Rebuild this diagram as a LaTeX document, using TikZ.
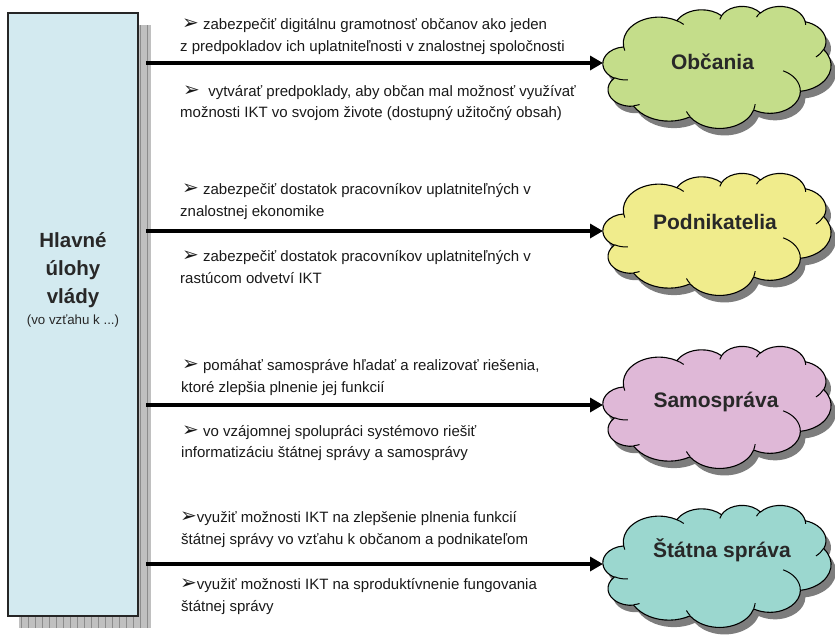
\documentclass[tikz,border=0pt]{standalone}
\usepackage{fontspec}
\setmainfont{Liberation Sans}
\newfontfamily\dingfont{DejaVu Sans}
\usetikzlibrary{arrows.meta}
\definecolor{rectblue}{RGB}{211,234,240}
\definecolor{shadowgray}{RGB}{192,192,192}
\definecolor{gridgray}{RGB}{140,140,140}
\definecolor{cgreen}{RGB}{196,221,138}
\definecolor{cyellow}{RGB}{240,236,140}
\definecolor{cpink}{RGB}{223,184,215}
\definecolor{cteal}{RGB}{155,215,207}
\definecolor{cshadow}{RGB}{125,125,125}
\definecolor{labelgray}{RGB}{40,40,40}
\definecolor{txtcol}{RGB}{25,25,25}

% Office-style cloud outline, computed from elliptical arcs (units: 1/100 of 43200)
\newcommand\cldadd[5]{%
  \pgfmathsetmacro\cldtA{atan2((#2)*sin(#4),(#3)*cos(#4))}%
  \pgfmathsetmacro\cldtB{atan2((#2)*sin((#4)+(#5)),(#3)*cos((#4)+(#5)))}%
  \pgfmathsetmacro\cldtB{\cldtB+360*round(((#5)-(\cldtB-\cldtA))/360)}%
  \xdef#1{#1 arc[start angle=\cldtA, end angle=\cldtB, x radius=#2, y radius=#3]}%
}
\gdef\cldmain{(39,143.7)}
\cldadd\cldmain{67.53}{91.90}{-190.4875}{123.7805}
\cldadd\cldmain{53.33}{72.67}{-144.1024}{89.9452}
\cldadd\cldmain{43.65}{59.45}{-145.8079}{99.7230}
\cldadd\cldmain{48.57}{65.95}{-130.9861}{117.2417}
\cldadd\cldmain{53.33}{72.73}{-78.7089}{109.0269}
\cldadd\cldmain{67.75}{92.20}{-46.2673}{130.2690}
\cldadd\cldmain{57.85}{78.67}{0.6250}{114.0333}
\cldadd\cldmain{67.52}{92.15}{22.4516}{115.1726}
\cldadd\cldmain{77.20}{105.43}{66.2426}{75.7110}
\cldadd\cldmain{43.60}{59.18}{-274.9421}{146.7356}
\cldadd\cldmain{43.45}{59.45}{-246.8285}{152.5189}
\gdef\cldinner{}
\newcommand\cldin[6]{\xdef\cldinner{\cldinner (#1,#2)}\cldadd\cldinner{#3}{#4}{#5}{#6}}
\cldin{46.93}{261.77}{43.45}{59.45}{86.7420}{26.4295}
\cldin{69.28}{348.99}{43.60}{59.18}{73.6105}{11.4475}
\cldin{164.78}{390.90}{67.52}{92.15}{137.6242}{14.0811}
\cldin{288.27}{347.51}{67.52}{92.15}{6.4533}{15.9984}
\cldin{341.29}{229.54}{57.85}{78.67}{-70.2924}{70.9174}
\cldin{417.98}{153.54}{53.33}{72.73}{30.3180}{27.7515}
\cldin{383.24}{54.26}{48.57}{65.95}{-13.7443}{14.8589}
\cldin{290.78}{39.52}{48.57}{65.95}{-149.1815}{18.1954}
\cldin{221.41}{47.20}{43.65}{59.45}{-163.4943}{17.6864}
\cldin{140.00}{51.92}{67.53}{91.90}{-66.7070}{12.3194}
\cldin{41.27}{157.89}{67.53}{91.90}{157.6544}{11.8582}

\newcommand\drawcloud[5]{%
  \begin{scope}[shift={(#1+5,#2+7)}, xscale=#3/432, yscale=#4/432]
    \fill[cshadow] \cldmain -- cycle;
  \end{scope}
  \begin{scope}[shift={(#1,#2)}, xscale=#3/432, yscale=#4/432]
    \filldraw[fill=#5, draw=black, line width=1.1pt] \cldmain -- cycle;
    \draw[line width=1pt] \cldinner;
  \end{scope}
}
\newcommand\bul{{\dingfont\fontsize{20}{20}\selectfont ➢}}

\tikzset{
  txt/.style={anchor=base west, inner sep=0pt, text=txtcol, font=\fontsize{15}{18}\selectfont},
  ttl/.style={anchor=base, inner sep=0pt, text=labelgray, font=\fontsize{20.5}{24}\selectfont\bfseries},
  clbl/.style={inner sep=0pt, text=labelgray, font=\fontsize{21}{25}\selectfont\bfseries},
  link/.style={line width=4.5pt, -{Triangle[length=13pt,width=14pt]}, shorten <=7.5pt},
}

\begin{document}
\begin{tikzpicture}[x=1pt, y=-1pt]
\useasboundingbox (0,0) rectangle (835,635);
% shadow of the main box (hatched grey)
\begin{scope}
  \clip (19,25) rectangle (151,628);
  \fill[shadowgray] (19,25) rectangle (151,628);
  \draw[gridgray, line width=0.6pt, step=7] (19,25) grid (151,628);
\end{scope}
\node[draw=black!85, fill=rectblue, line width=1.3pt, minimum width=130, minimum height=603, inner sep=0pt] (main) at (73,314.5) {};
\node[ttl] (h1) at (73,247) {Hlavné};
\node[ttl] (h2) at (73,275) {úlohy};
\node[ttl] (h3) at (73,303) {vlády};
\node[anchor=base, inner sep=0pt, text=labelgray, font=\fontsize{13.3}{16}\selectfont] (h4) at (73,324) {(vo vzťahu k ...)};

% clouds
\drawcloud{603}{6}{228}{122}{cgreen}
\drawcloud{603}{173}{228}{122}{cyellow}
\drawcloud{603}{346}{228}{122}{cpink}
\drawcloud{603}{505}{228}{122}{cteal}
\node[clbl] (c1) at (712.5,62) {Občania};
\node[clbl] (c2) at (715,222) {Podnikatelia};
\node[clbl] (c3) at (716,402) {Samospráva};
\node[clbl] (c4) at (722,550) {Štátna správa};
\coordinate (e1) at (603,63);
\coordinate (e2) at (603,231);
\coordinate (e3) at (603,405);
\coordinate (e4) at (603,564);

% connectors
\draw[link] (main.east |- e1) -- (e1);
\draw[link] (main.east |- e2) -- (e2);
\draw[link] (main.east |- e3) -- (e3);
\draw[link] (main.east |- e4) -- (e4);

% texts
\node[txt] (t11) at (182,29) {\bul\ zabezpečiť digitálnu gramotnosť občanov ako jeden};
\node[txt] (t12) at (180,51) {z predpokladov ich uplatniteľnosti v znalostnej spoločnosti};
\node[txt] (t13) at (183,96) {\bul\ \ vytvárať predpoklady, aby občan mal možnosť využívať};
\node[txt] (t14) at (180,117) {možnosti IKT vo svojom živote (dostupný užitočný obsah)};

\node[txt] (t21) at (182,194) {\bul\ zabezpečiť dostatok pracovníkov uplatniteľných v};
\node[txt] (t22) at (180,216) {znalostnej ekonomike};
\node[txt] (t23) at (182,261) {\bul\ zabezpečiť dostatok pracovníkov uplatniteľných v};
\node[txt] (t24) at (180,283) {rastúcom odvetví IKT};

\node[txt] (t31) at (182,370) {\bul\ pomáhať samospráve hľadať a realizovať riešenia,};
\node[txt] (t32) at (181,392) {ktoré zlepšia plnenie jej funkcií};
\node[txt] (t33) at (182,436) {\bul\ vo vzájomnej spolupráci systémovo riešiť};
\node[txt] (t34) at (181,457) {informatizáciu štátnej správy a samosprávy};

\node[txt] (t41) at (180,522) {\bul využiť možnosti IKT na zlepšenie plnenia funkcií};
\node[txt] (t42) at (181,544) {štátnej správy vo vzťahu k občanom a podnikateľom};
\node[txt] (t43) at (180,589) {\bul využiť možnosti IKT na sproduktívnenie fungovania};
\node[txt] (t44) at (181,611) {štátnej správy};
\end{tikzpicture}
\end{document}
